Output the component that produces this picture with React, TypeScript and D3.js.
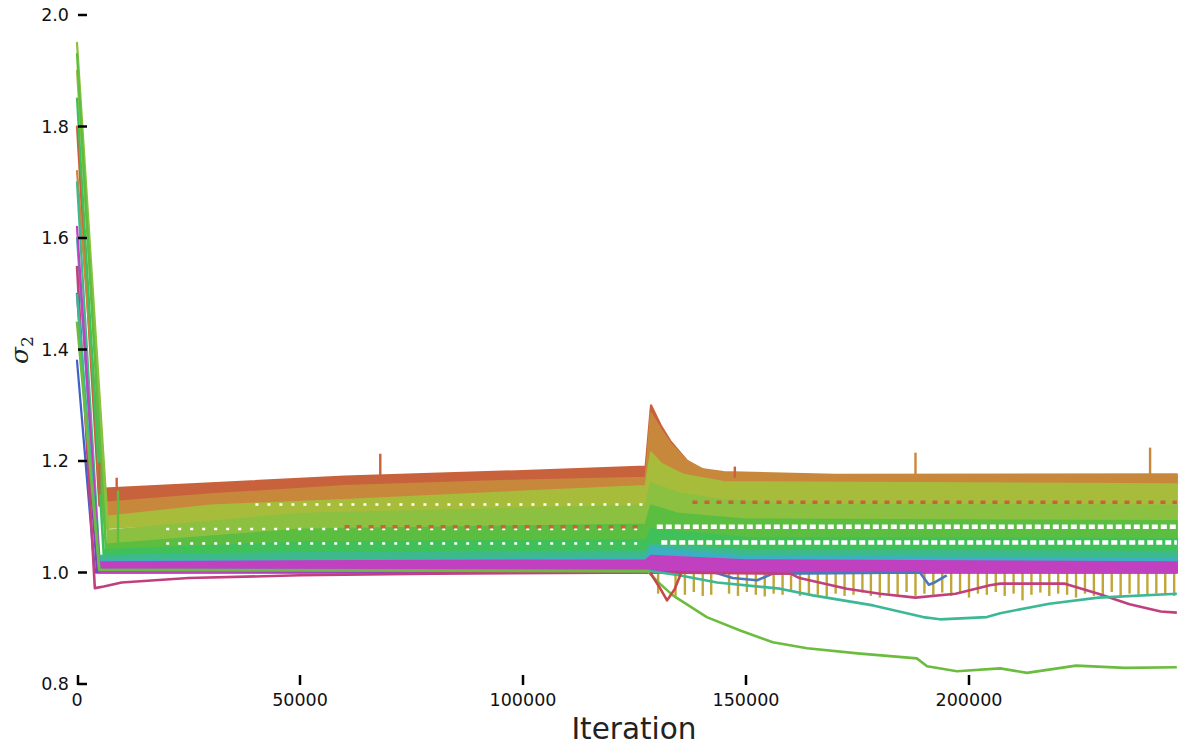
import * as d3 from "d3";

// iteration, low edge, high edge of each noisy band
type Knot = [number, number, number];
type Pt = [number, number];

const xTicks = [0, 50000, 100000, 150000, 200000];
const yTicks = [0.8, 1.0, 1.2, 1.4, 1.6, 1.8, 2.0];

const redBand: Knot[] = [
  [0, 1.8, 1.8], [5000, 1.12, 1.15], [30000, 1.135, 1.16], [60000, 1.148, 1.172],
  [100000, 1.16, 1.182], [127500, 1.165, 1.19], [128700, 1.24, 1.3], [131000, 1.2, 1.262],
  [133000, 1.18, 1.236], [136800, 1.16, 1.2], [140000, 1.15, 1.185], [146000, 1.14, 1.175],
];
const orangeBand: Knot[] = [
  [0, 1.72, 1.72], [6000, 1.1, 1.125], [30000, 1.11, 1.14], [60000, 1.125, 1.155],
  [100000, 1.135, 1.165], [127500, 1.14, 1.17], [128700, 1.2, 1.285], [131000, 1.19, 1.255],
  [133000, 1.18, 1.232], [136800, 1.17, 1.2], [140400, 1.165, 1.185], [145000, 1.16, 1.18],
  [170000, 1.156, 1.175], [246600, 1.157, 1.176],
];
const oliveBand: Knot[] = [
  [0, 1.9, 1.9], [6500, 1.08, 1.1], [30000, 1.09, 1.12], [60000, 1.1, 1.13],
  [100000, 1.11, 1.145], [127500, 1.115, 1.155], [128700, 1.15, 1.215], [131000, 1.14, 1.195],
  [136000, 1.13, 1.175], [145000, 1.12, 1.162], [246600, 1.118, 1.158],
];
const limeBand: Knot[] = [
  [0, 1.95, 1.95], [7000, 1.05, 1.075], [50000, 1.075, 1.105], [127500, 1.085, 1.12],
  [128700, 1.11, 1.16], [135000, 1.096, 1.142], [145000, 1.09, 1.13], [160000, 1.088, 1.122],
  [246600, 1.088, 1.12],
];
const greenBand: Knot[] = [
  [0, 1.93, 1.93], [6500, 1.035, 1.05], [50000, 1.052, 1.077], [127500, 1.056, 1.086],
  [128700, 1.075, 1.12], [135000, 1.068, 1.105], [150000, 1.06, 1.095], [246600, 1.058, 1.092],
];
const emeraldBand: Knot[] = [
  [0, 1.85, 1.85], [6000, 1.025, 1.04], [50000, 1.03, 1.054], [127500, 1.034, 1.058],
  [128700, 1.048, 1.078], [150000, 1.035, 1.062], [246600, 1.03, 1.06],
];
const tealBand: Knot[] = [
  [0, 1.7, 1.7], [5000, 1.015, 1.03], [50000, 1.02, 1.035], [127500, 1.022, 1.038],
  [128700, 1.035, 1.05], [150000, 1.025, 1.04], [246600, 1.02, 1.037],
];
const cyanBand: Knot[] = [
  [0, 1.6, 1.6], [5000, 1.012, 1.02], [127500, 1.015, 1.025], [128700, 1.025, 1.045],
  [150000, 1.015, 1.028], [246600, 1.012, 1.025],
];
const blueBand: Knot[] = [
  [0, 1.38, 1.38], [4000, 1.0, 1.005], [246600, 1.0, 1.005],
];
const purpleBand: Knot[] = [
  [0, 1.5, 1.5], [4500, 1.0, 1.01], [246600, 1.0, 1.01],
];
const magentaBand: Knot[] = [
  [0, 1.62, 1.62], [5000, 1.0, 1.018], [50000, 1.002, 1.02], [127500, 1.003, 1.022],
  [128700, 1.005, 1.03], [150000, 1.002, 1.022], [246600, 1.0, 1.018],
];

const pinkLine: Pt[] = [
  [0, 1.55], [4000, 0.972], [6000, 0.975], [10000, 0.982], [25000, 0.99], [50000, 0.995],
  [80000, 0.998], [130000, 1.0], [160000, 0.998], [162000, 0.99], [172600, 0.971],
  [180000, 0.962], [188000, 0.955], [197000, 0.962], [204700, 0.977], [207000, 0.98],
  [221500, 0.98], [229000, 0.962], [236000, 0.943], [243000, 0.93], [246600, 0.928],
];
const tealLine: Pt[] = [
  [0, 1.5], [5000, 1.005], [128000, 1.003], [135000, 0.995], [143500, 0.982],
  [157600, 0.971], [165000, 0.959], [178500, 0.941], [189700, 0.92], [193500, 0.916],
  [204000, 0.92], [207000, 0.927], [218000, 0.944], [229000, 0.955], [246600, 0.962],
];
const greenLine: Pt[] = [
  [0, 1.45], [5000, 1.005], [128000, 1.002], [130000, 0.985], [133600, 0.959],
  [141200, 0.92], [148700, 0.896], [156000, 0.875], [163700, 0.864], [175000, 0.855],
  [188300, 0.846], [190600, 0.832], [197300, 0.823], [207000, 0.828], [213000, 0.82],
  [224000, 0.833], [235000, 0.829], [246600, 0.83],
];
const redDip: Pt[] = [
  [128500, 1.0], [130500, 0.975], [132300, 0.95], [134000, 0.97], [135500, 1.0],
];
const blueDips: Pt[] = [
  [143000, 1.0], [147000, 0.99], [152500, 0.986], [156000, 0.998],
  [189000, 1.0], [191000, 0.978], [192500, 0.983], [195000, 0.995],
];

// downward spikes of the gold trace hidden under the 1.0 band
const goldSpikes: Pt[] = [
  [130300, 0.962], [134200, 0.958], [136300, 0.96], [138300, 0.965], [140300, 0.958],
  [142200, 0.96], [146200, 0.962], [148200, 0.958], [150200, 0.965], [152200, 0.96],
  [154200, 0.957], [156200, 0.962], [158200, 0.96], [160100, 0.965], [162100, 0.958],
  [164100, 0.962], [166100, 0.96], [168100, 0.955], [170100, 0.962], [172100, 0.958],
  [174100, 0.96], [176100, 0.964], [178000, 0.958], [180000, 0.955], [182000, 0.962],
  [184000, 0.96], [186000, 0.965], [188000, 0.958], [190000, 0.962], [192000, 0.96],
  [194000, 0.964], [196000, 0.958], [198000, 0.962], [200000, 0.955], [202000, 0.962],
  [204000, 0.96], [206000, 0.965], [208000, 0.958], [210000, 0.962], [212000, 0.95],
  [214000, 0.96], [216000, 0.964], [218000, 0.958], [220000, 0.962], [222000, 0.96],
  [224000, 0.955], [226000, 0.962], [228000, 0.958], [230000, 0.96], [232000, 0.965],
  [234000, 0.955], [236000, 0.962], [238000, 0.96], [240000, 0.958], [242000, 0.962],
  [244000, 0.96], [246000, 0.958],
];

// occasional upward spikes: iteration, base, top
const upSpikes: Knot[] = [
  [5000, 1.14, 1.197], [8900, 1.14, 1.17], [68000, 1.16, 1.213], [147500, 1.17, 1.19],
  [188000, 1.17, 1.215], [240600, 1.17, 1.224],
];
const upSpikeColors = ["#c8623c", "#c8623c", "#c8623c", "#c8623c", "#c8883c", "#c8883c"];
const greenSpike: Knot = [9200, 1.05, 1.147];

// white holes in the bands: from, to, level
const sparseGaps: Knot[] = [
  [40000, 127000, 1.122], [20000, 127000, 1.078], [20000, 127000, 1.052],
];
const denseGaps: Knot[] = [
  [130000, 246600, 1.082], [131000, 246600, 1.054],
];
// broken red trace showing through: from, to, level
const redDashes: Knot[] = [
  [60000, 127000, 1.082], [138000, 246600, 1.126],
];

const bands = [
  { knots: redBand, color: "#c8623c" },
  { knots: orangeBand, color: "#c8883c" },
  { knots: oliveBand, color: "#a8bc3c" },
  { knots: limeBand, color: "#8cc040" },
  { knots: greenBand, color: "#5cbe40" },
  { knots: emeraldBand, color: "#40c058" },
  { knots: tealBand, color: "#3cba8c" },
  { knots: cyanBand, color: "#3cb0c0" },
  { knots: blueBand, color: "#4060c8" },
  { knots: purpleBand, color: "#8040c0" },
  { knots: magentaBand, color: "#c040c0" },
];

const lines = [
  { pts: blueDips, color: "#4a78b8" },
  { pts: pinkLine, color: "#c0407e" },
  { pts: tealLine, color: "#3cb896" },
  { pts: greenLine, color: "#6cbc40" },
  { pts: redDip, color: "#c84848" },
];

const x = d3.scaleLinear().domain([0, 250000]).range([77, 1192]);
const y = d3.scaleLinear().domain([0.8, 2.0]).range([684, 15]);

const area = d3
  .area<Knot>()
  .x((d) => x(d[0]))
  .y0((d) => y(d[1]))
  .y1((d) => y(d[2]));
const line = d3
  .line<Pt>()
  .x((d) => x(d[0]))
  .y((d) => y(d[1]));

const font = "DejaVu Sans, sans-serif";

export default function App() {
  return (
    <svg
      width={1200}
      height={751}
      style={{ position: "absolute", left: 0, top: 0, background: "#fff" }}
    >
      {goldSpikes.map((d, i) => (
        <line
          key={"g" + i}
          x1={x(d[0])}
          x2={x(d[0])}
          y1={y(1.0)}
          y2={y(d[1])}
          stroke="#c0a636"
          strokeWidth={2.4}
        />
      ))}
      {bands.map((b, i) => (
        <path
          key={"b" + i}
          d={area(b.knots) ?? ""}
          fill={b.color}
          stroke={b.color}
          strokeWidth={2.2}
          strokeLinejoin="round"
        />
      ))}
      {sparseGaps.map((g, i) => (
        <line
          key={"s" + i}
          x1={x(g[0])}
          x2={x(g[1])}
          y1={y(g[2])}
          y2={y(g[2])}
          stroke="#fff"
          strokeWidth={2.5}
          strokeDasharray="3 9"
        />
      ))}
      {denseGaps.map((g, i) => (
        <line
          key={"d" + i}
          x1={x(g[0])}
          x2={x(g[1])}
          y1={y(g[2])}
          y2={y(g[2])}
          stroke="#fff"
          strokeWidth={4.5}
          strokeDasharray="6 3"
        />
      ))}
      {redDashes.map((g, i) => (
        <line
          key={"r" + i}
          x1={x(g[0])}
          x2={x(g[1])}
          y1={y(g[2])}
          y2={y(g[2])}
          stroke="#c8623c"
          strokeWidth={3.5}
          strokeDasharray="5 7"
        />
      ))}
      {upSpikes.map((d, i) => (
        <line
          key={"u" + i}
          x1={x(d[0])}
          x2={x(d[0])}
          y1={y(d[1])}
          y2={y(d[2])}
          stroke={upSpikeColors[i]}
          strokeWidth={2.4}
        />
      ))}
      <line
        x1={x(greenSpike[0])}
        x2={x(greenSpike[0])}
        y1={y(greenSpike[1])}
        y2={y(greenSpike[2])}
        stroke="#5cbe40"
        strokeWidth={2.4}
      />
      {lines.map((l, i) => (
        <path
          key={"l" + i}
          d={line(l.pts) ?? ""}
          fill="none"
          stroke={l.color}
          strokeWidth={2.6}
          strokeLinejoin="round"
        />
      ))}

      {yTicks.map((t) => (
        <g key={"yt" + t}>
          <line x1={78} x2={87} y1={y(t)} y2={y(t)} stroke="#000" strokeWidth={2.5} />
          <text
            x={69}
            y={y(t)}
            dy="0.35em"
            textAnchor="end"
            fontFamily={font}
            fontSize={17.5}
            fill="#111"
          >
            {t.toFixed(1)}
          </text>
        </g>
      ))}
      {xTicks.map((t) => (
        <g key={"xt" + t}>
          <line
            x1={x(t) + (t === 0 ? 1 : 0)}
            x2={x(t) + (t === 0 ? 1 : 0)}
            y1={685}
            y2={675}
            stroke="#000"
            strokeWidth={2.5}
          />
          <text
            x={x(t)}
            y={700}
            dy="0.35em"
            textAnchor="middle"
            fontFamily={font}
            fontSize={17.5}
            fill="#111"
          >
            {t}
          </text>
        </g>
      ))}
      <text
        x={634}
        y={729}
        dy="0.35em"
        textAnchor="middle"
        fontFamily={font}
        fontSize={29.5}
        fill="#222"
      >
        Iteration
      </text>
      <text
        transform="translate(28,350) rotate(-90)"
        textAnchor="middle"
        fontFamily="DejaVu Serif, serif"
        fontSize={25}
        fill="#222"
      >
        <tspan fontStyle="italic">σ</tspan>
        <tspan fontSize={17} dy={5}>
          2
        </tspan>
      </text>
    </svg>
  );
}
